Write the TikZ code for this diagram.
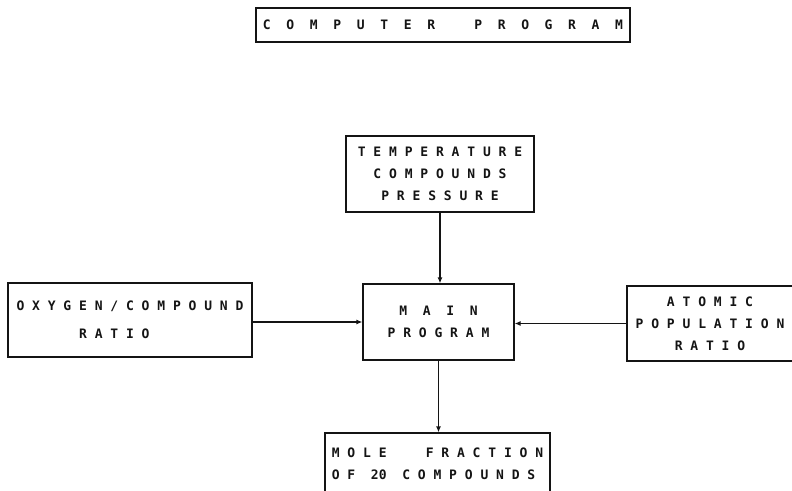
\documentclass[tikz,border=0pt]{standalone}
\usepackage{fontspec}
\usepackage{xcolor}
\usepackage{tikz}
\usetikzlibrary{positioning,arrows.meta}
\newfontfamily\plotfont{DejaVu Sans Mono}
\definecolor{ink}{HTML}{141414}
\tikzset{
  blk/.style={draw=ink,line width=1.2pt,inner sep=0pt,text=ink,
              font=\plotfont\bfseries\fontsize{13}{22}\selectfont},
  a/.style={-{Latex[length=6pt,width=5pt]},line width=1.2pt,draw=ink},
}
\begin{document}
\begin{tikzpicture}[x=1pt,y=-1pt]
\useasboundingbox (0,0) rectangle (792,490);

% ---- heading
\node[blk,minimum width=374pt,minimum height=34pt,align=left] (title) at (443,25)
  {C~~O~~M~~P~~U~~T~~E~~R~~~~~P~~R~~O~~G~~R~~A~~M};

% ---- inputs
\node[blk,minimum width=188pt,minimum height=76pt,align=center] (temp) at (440,174)
  {T E M P E R A T U R E\\C O M P O U N D S\\P R E S S U R E};
\node[blk,minimum width=244pt,minimum height=74pt,align=left,
      font=\plotfont\bfseries\fontsize{13}{28}\selectfont] (oxy) at (130,320)
  {O X Y G E N / C O M P O U N D\\\null~~~~~~~~R A T I O};
\node[blk,minimum width=166pt,minimum height=75pt,align=center] (atom) at (710,323.5)
  {A T O M I C\\P O P U L A T I O N\\R A T I O};

% ---- program and result
\node[blk,minimum width=151pt,minimum height=76pt,align=center] (main) at (438.5,322)
  {M~~A~~I~~N\\P R O G R A M};
\node[blk,minimum width=225pt,minimum height=62pt,align=left] (frac) at (437.5,464)
  {M O L E~~~~~F R A C T I O N\\O F~~20~~C O M P O U N D S};

\draw[a] (temp.south) -- (temp.south |- main.north);
\draw[a] (main.west -| oxy.east) -- (main.west);
\draw[a] (atom.west) -- (atom.west -| main.east);
\draw[a] (main.south) -- (main.south |- frac.north);

\end{tikzpicture}
\end{document}
